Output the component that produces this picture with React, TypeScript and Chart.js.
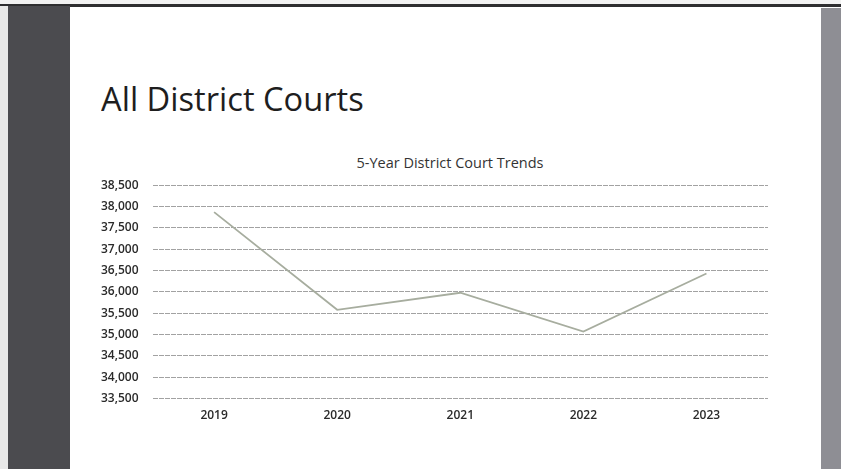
import React, { useEffect, useRef } from "react";
import { Chart, registerables } from "chart.js";

Chart.register(...registerables);

const years = ["2019", "2020", "2021", "2022", "2023"];
const caseCounts = [37870, 35580, 35980, 35070, 36430];
const yMin = 33500;
const yMax = 38500;
const yStep = 500;
const pageTitle = "All District Courts";
const chartTitle = "5-Year District Court Trends";

export default function App() {
  const canvasRef = useRef<HTMLCanvasElement | null>(null);

  useEffect(() => {
    if (!canvasRef.current) return;
    const chart = new Chart(canvasRef.current, {
      type: "line",
      data: {
        labels: years,
        datasets: [
          {
            label: "Cases",
            data: caseCounts,
            borderColor: "#a7ad9f",
            borderWidth: 1.8,
            pointRadius: 0,
            tension: 0,
            fill: false,
          },
        ],
      },
      options: {
        animation: false,
        responsive: false,
        maintainAspectRatio: false,
        layout: { padding: { left: 7, right: 10, top: 8, bottom: 8 } },
        plugins: {
          legend: { display: false },
          tooltip: { enabled: false },
          title: { display: false },
        },
        scales: {
          x: {
            offset: true,
            grid: { display: false, drawTicks: false },
            border: { display: false },
            ticks: {
              color: "#2a2a2a",
              padding: 10,
              font: { family: "Open Sans", size: 12, weight: 600 },
            },
          },
          y: {
            min: yMin,
            max: yMax,
            grid: {
              color: "rgba(85,85,85,0.55)",
              lineWidth: 1,
              drawTicks: false,
            },
            border: { display: false, dash: [5, 1] },
            ticks: {
              stepSize: yStep,
              color: "#2a2a2a",
              padding: 14,
              font: { family: "Open Sans", size: 12, weight: 600 },
              callback: (v: any) => Number(v).toLocaleString("en-US"),
            },
          },
        },
      },
    });
    return () => chart.destroy();
  }, []);

  return (
    <div
      style={{
        position: "absolute",
        left: 0,
        top: 0,
        width: 841,
        height: 469,
        overflow: "hidden",
        background: "#ffffff",
      }}
    >
      <div style={{ position: "absolute", left: 0, top: 0, width: 841, height: 5, background: "#f2f2f2" }} />
      <div style={{ position: "absolute", left: 0, top: 4, width: 841, height: 3, background: "#2e2e30" }} />
      <div style={{ position: "absolute", left: 8, top: 6, width: 62, height: 463, background: "#4b4b4f" }} />
      <div style={{ position: "absolute", left: 0, top: 6, width: 8, height: 463, background: "#e8e8e8" }} />
      <div style={{ position: "absolute", left: 821, top: 8, width: 20, height: 461, background: "#8e8e94" }} />
      <div
        style={{
          position: "absolute",
          left: 101,
          top: 79,
          fontFamily: "Open Sans",
          fontSize: 32,
          lineHeight: "40px",
          color: "#1e1e1e",
          whiteSpace: "nowrap",
          transformOrigin: "left top",
          transform: "scaleX(1.02)",
        }}
      >
        {pageTitle}
      </div>
      <div
        style={{
          position: "absolute",
          left: 250,
          width: 400,
          top: 153,
          textAlign: "center",
          fontFamily: "Open Sans",
          fontSize: 14.5,
          lineHeight: "20px",
          color: "#333",
          whiteSpace: "nowrap",
        }}
      >
        {chartTitle}
      </div>
      <canvas
        ref={canvasRef}
        width={698}
        height={277}
        style={{ position: "absolute", left: 80, top: 164, width: 698, height: 277 }}
      />
    </div>
  );
}
